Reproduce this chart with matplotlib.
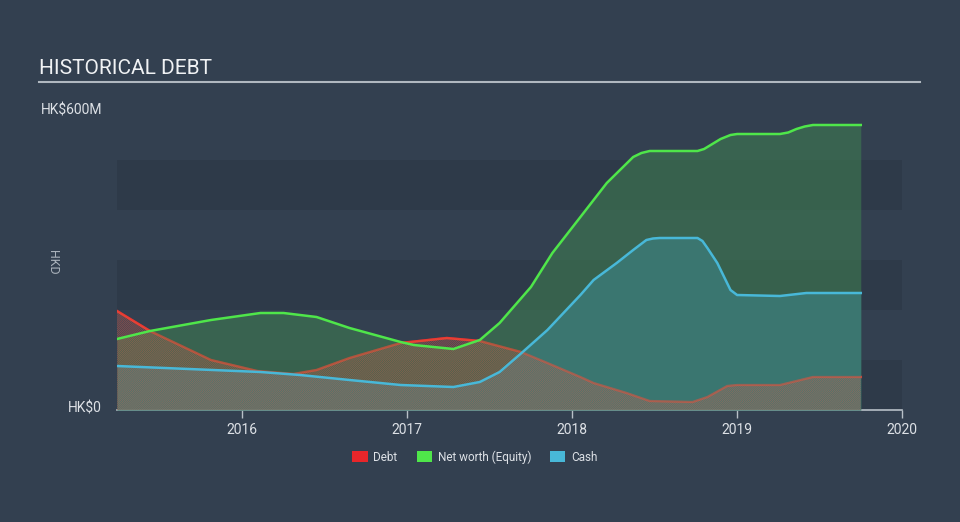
import matplotlib.pyplot as plt
from matplotlib.patches import Patch

plt.rcParams['font.family'] = ['Roboto', 'DejaVu Sans']
plt.rcParams['hatch.linewidth'] = 0.7

# values, HK$ millions, dates in fractional years
debt_t = [2015.24, 2015.44, 2015.81, 2016.09, 2016.31, 2016.45, 2016.65, 2016.96,
          2017.24, 2017.44, 2017.69, 2017.85, 2018.05, 2018.13, 2018.33, 2018.47,
          2018.73, 2018.82, 2018.94, 2019.0, 2019.26, 2019.36, 2019.46, 2019.75]
debt_v = [198, 158, 100, 78, 72, 80, 104, 134,
          144, 138, 116, 94, 66, 54, 34, 18,
          16, 26, 48, 50, 50, 58, 66, 66]

equity_t = [2015.24, 2015.44, 2015.81, 2016.11, 2016.25, 2016.45, 2016.65, 2016.96,
            2017.04, 2017.28, 2017.44, 2017.56, 2017.75, 2017.88, 2018.05, 2018.21,
            2018.37, 2018.42, 2018.47, 2018.76, 2018.80, 2018.84, 2018.90, 2018.96,
            2019.0, 2019.26, 2019.31, 2019.36, 2019.41, 2019.46, 2019.75]
equity_v = [142, 158, 180, 194, 194, 186, 164, 136,
            130, 122, 140, 174, 246, 314, 386, 454,
            506, 514, 518, 518, 522, 530, 542, 550,
            552, 552, 555, 562, 567, 570, 570]

cash_t = [2015.24, 2016.11, 2016.35, 2016.65, 2016.96, 2017.28, 2017.44, 2017.56,
          2017.70, 2017.85, 2018.05, 2018.13, 2018.27, 2018.37, 2018.45, 2018.49,
          2018.53, 2018.76, 2018.79, 2018.82, 2018.88, 2018.96, 2019.0, 2019.26,
          2019.42, 2019.75]
cash_v = [88, 76, 70, 60, 50, 46, 56, 76,
          116, 160, 230, 260, 294, 320, 340, 343,
          344, 344, 338, 324, 294, 240, 230, 228,
          234, 234]

years = [2016, 2017, 2018, 2019, 2020]

bg = '#334050'
band = '#2e3a49'
red = '#e8262a'
green = '#4fe64a'
blue = '#48b8d8'

fig = plt.figure(figsize=(9.6, 5.22), dpi=100, facecolor=bg)
ax = fig.add_axes([117/960, 112/522, 785/960, 300/522])
ax.set_facecolor(bg)

# alternating background bands
for lo in (0, 200, 400):
    ax.axhspan(lo, lo + 100, color=band, lw=0, zorder=0)

# debt line sits under the other areas
ax.plot(debt_t, debt_v, color=red, lw=1.8, zorder=2)

# equity and cash areas
ax.fill_between(equity_t, 0, equity_v, color='#3c7350', alpha=0.7, lw=0, zorder=3)
ax.fill_between(cash_t, 0, cash_v, color='#3c7f7f', alpha=0.7, lw=0, zorder=4)

# debt hatch on top, plus a faint copy of the line so it shows through
ax.fill_between(debt_t, 0, debt_v, facecolor='none', edgecolor=(0.88, 0.38, 0.30, 0.45),
                hatch='/' * 16, linewidth=0, zorder=5)
ax.plot(debt_t, debt_v, color='#e8503a', lw=1.6, alpha=0.5, zorder=5)

ax.plot(equity_t, equity_v, color=green, lw=1.8, zorder=6)
ax.plot(cash_t, cash_v, color=blue, lw=1.8, zorder=7)

ax.set_xlim(2015.24, 2020)
ax.set_ylim(0, 600)
for s in ('top', 'right', 'left'):
    ax.spines[s].set_visible(False)
ax.spines['bottom'].set_color('#b8c0c8')
ax.spines['bottom'].set_linewidth(1.2)
ax.set_xticks(years)
ax.set_xticklabels([str(y) for y in years])
ax.tick_params(axis='x', colors='#b8c0c8', length=6, width=1, labelsize=10,
               labelcolor='#dde1e6', pad=3)
ax.set_yticks([])

# y labels
fig.text(102/960, 1 - 110/522, 'HK$600M', color='#dde1e6', fontsize=10,
         ha='right', va='center')
fig.text(102/960, 1 - 409/522, 'HK$0', color='#dde1e6', fontsize=10,
         ha='right', va='center')
fig.text(52/960, 1 - 262/522, 'HKD', color='#aab2bb', fontsize=9,
         rotation=270, ha='center', va='center')

# title and rule
fig.text(39/960, 1 - 69/522, 'HISTORICAL DEBT', color='#f0f2f4', fontsize=15,
         ha='left', va='center')
fig.add_artist(plt.Line2D([39/960, 920/960], [1 - 82/522, 1 - 82/522],
                          color='#b0b8c0', lw=1.5))

handles = [Patch(facecolor=red, label='Debt'),
           Patch(facecolor=green, label='Net worth (Equity)'),
           Patch(facecolor=blue, label='Cash')]
leg = fig.legend(handles=handles, loc='center', bbox_to_anchor=(475/960, 1 - 457/522),
                 ncol=3, frameon=False, fontsize=8.5, handlelength=1.3, handleheight=1.0,
                 columnspacing=1.6, handletextpad=0.5)
for t in leg.get_texts():
    t.set_color('#dde1e6')

fig.savefig('out.png', dpi=100, facecolor=bg)
